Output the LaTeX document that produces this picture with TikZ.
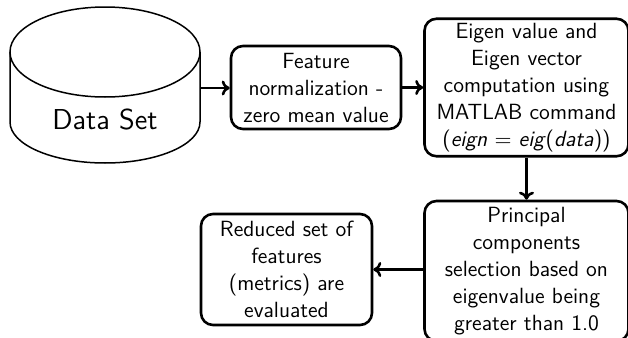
\documentclass[tikz,border=0pt]{standalone}
\usepackage{fontspec}
\usetikzlibrary{arrows.meta}
\begin{document}
\begin{tikzpicture}[x=0.5pt,y=-0.5pt,
  box/.style={draw, line width=1.3pt, rounded corners=6pt, align=center,
    inner sep=0pt, font=\sffamily\fontsize{11}{13.5}\selectfont},
  arr/.style={-{To[length=4pt,width=7.5pt]}, line width=1.3pt},
  cyl/.style={line width=0.75pt}]
\useasboundingbox (0,0) rectangle (628,338);
% Data set cylinder
\draw[cyl] (105,52) ellipse [x radius=47.5pt, y radius=22.5pt];
\draw[cyl] (10,52) -- (10,122) arc[start angle=180, end angle=360, x radius=47.5pt, y radius=20.5pt] -- (200,52);
\node[font=\sffamily\fontsize{14.4}{18}\selectfont] (ds) at (105,120) {Data Set};
\coordinate (dsE) at (200,88);
% boxes
\node[box, minimum width=85pt, minimum height=41.5pt] (feat) at (316,87.5)
  {Feature\\normalization -\\zero mean value};
\node[box, minimum width=102pt, minimum height=68.75pt] (eig) at (526.5,87.5)
  {Eigen value and\\Eigen vector\\computation using\\MATLAB command\\(\textit{eign} $=$ \textit{eig}(\textit{data}))};
\node[box, minimum width=102pt, minimum height=70pt] (princ) at (526.5,271)
  {Principal\\components\\selection based on\\eigenvalue being\\greater than 1.0};
\node[box, minimum width=85.5pt, minimum height=55.5pt] (red) at (286.5,269.5)
  {Reduced set of\\features\\(metrics) are\\evaluated};
% connectors
\draw[arr] (dsE) -- (feat.west |- dsE);
\draw[arr] (feat.east) -- (eig.west |- feat.east);
\draw[arr] (eig.south) -- (princ.north);
\draw[arr] (princ.west |- red.east) -- (red.east);
\end{tikzpicture}
\end{document}
